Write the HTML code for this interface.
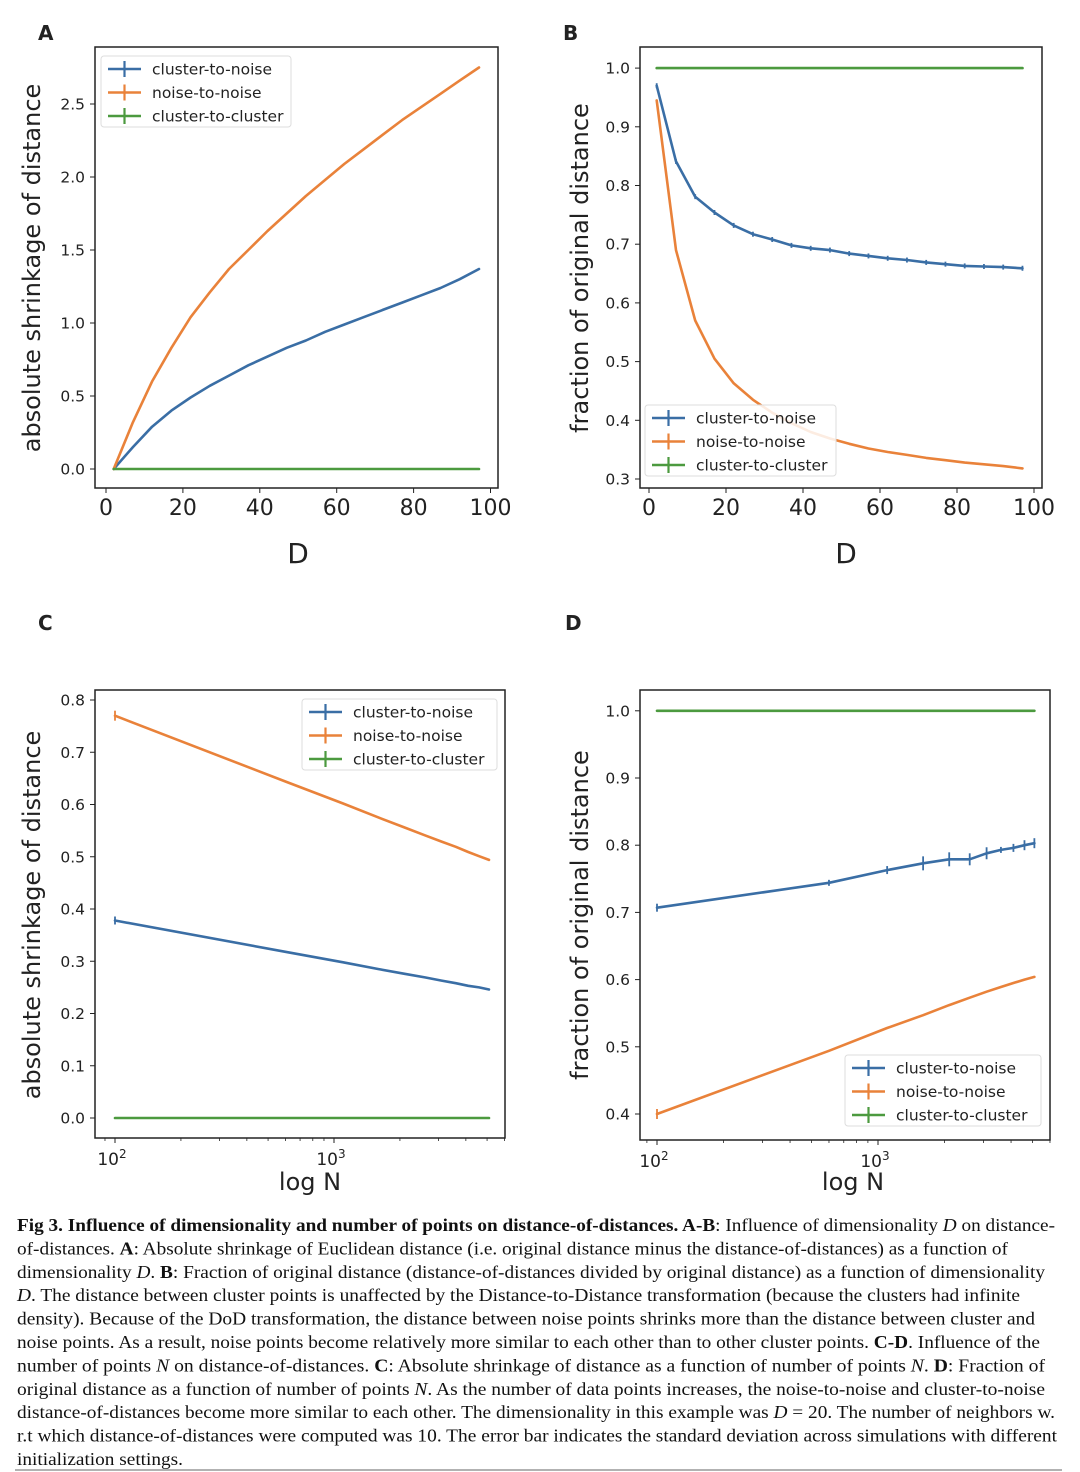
<!DOCTYPE html>
<html><head><meta charset="utf-8">
<style>
html,body{margin:0;padding:0;background:#fff;}
svg{display:block;}
.tk{font-family:"DejaVu Sans","Liberation Sans",sans-serif;fill:#222;}
.cap{font-family:"Liberation Serif",serif;font-size:18px;fill:#111;}
</style></head>
<body>
<svg id="fig" width="1080" height="1472" viewBox="0 0 1080 1472" xmlns="http://www.w3.org/2000/svg"></svg>
<script>
// ---- data ----
const dimD = [2,7,12,17,22,27,32,37,42,47,52,57,62,67,72,77,82,87,92,97];
const aNoise = [0,0.32,0.60,0.83,1.04,1.21,1.37,1.50,1.63,1.75,1.87,1.98,2.09,2.19,2.29,2.39,2.48,2.57,2.66,2.75];
const aClusterNoise = [0,0.15,0.29,0.40,0.49,0.57,0.64,0.71,0.77,0.83,0.88,0.94,0.99,1.04,1.09,1.14,1.19,1.24,1.30,1.37];
const aClusterCluster = [0,0,0,0,0,0,0,0,0,0,0,0,0,0,0,0,0,0,0,0];
const bClusterNoise = [0.970,0.841,0.781,0.754,0.732,0.717,0.708,0.698,0.693,0.690,0.684,0.680,0.676,0.673,0.669,0.666,0.663,0.662,0.661,0.659];
const bNoise = [0.945,0.69,0.57,0.505,0.463,0.435,0.413,0.395,0.380,0.369,0.360,0.352,0.346,0.341,0.336,0.332,0.328,0.325,0.322,0.318];
const bClusterCluster = [1,1,1,1,1,1,1,1,1,1,1,1,1,1,1,1,1,1,1,1];
const numN = [100,600,1100,1600,2100,2600,3100,3600,4100,4600,5100];
const cNoise = [0.770,0.644,0.602,0.575,0.556,0.541,0.529,0.519,0.509,0.501,0.494];
const cClusterNoise = [0.378,0.318,0.298,0.285,0.276,0.269,0.263,0.258,0.253,0.250,0.246];
const cClusterCluster = [0,0,0,0,0,0,0,0,0,0,0];
const dClusterNoise = [0.707,0.744,0.763,0.773,0.779,0.779,0.788,0.793,0.796,0.800,0.803];
const dNoise = [0.400,0.494,0.528,0.547,0.562,0.573,0.582,0.589,0.595,0.600,0.604];
const dClusterCluster = [1,1,1,1,1,1,1,1,1,1,1];
const linTicksX = [0,20,40,60,80,100];
const aTicksY = [0.0,0.5,1.0,1.5,2.0,2.5];
const bTicksY = [0.3,0.4,0.5,0.6,0.7,0.8,0.9,1.0];
const cTicksY = [0.0,0.1,0.2,0.3,0.4,0.5,0.6,0.7,0.8];
const dTicksY = [0.4,0.5,0.6,0.7,0.8,0.9,1.0];
const logTicksX = [100,1000];
const legendLabels = ["cluster-to-noise","noise-to-noise","cluster-to-cluster"];
const BLUE="#3a6ea5", ORANGE="#e9823a", GREEN="#4c9a3f";

const NS="http://www.w3.org/2000/svg";
const svg=document.getElementById('fig');
function mk(tag,attrs,parent){const e=document.createElementNS(NS,tag);for(const k in attrs)e.setAttribute(k,attrs[k]);(parent||svg).appendChild(e);return e;}

function panel(o){
  const g=mk('g',{});
  
  
  const X=v=>o.log? o.x0+(Math.log10(v)-2)*o.decade : o.x0+(v-o.xmin)*o.xs;
  const Y=v=>o.y0-(v-o.ymin)*o.ys;
  const L=mk('text',{x:o.lx,y:o.ly,'font-size':20,'font-weight':'bold',class:'tk'},g);L.textContent=o.letter;
  
  
  const box=mk('rect',{x:o.bx,y:o.by,width:o.bw,height:o.bh,fill:'none',stroke:'#222','stroke-width':1.5},g);
  
  
  const bot=o.by+o.bh;
  o.yt.forEach(v=>{
    const y=Y(v);
    mk('line',{x1:o.bx-5,x2:o.bx,y1:y,y2:y,stroke:'#222','stroke-width':1},g);
    const t=mk('text',{x:o.bx-10,y:y+5.5,'font-size':15.5,'text-anchor':'end',class:'tk'},g);
    t.textContent=v.toFixed(1);
    
    
  });
  if(o.log){
    const x9=X(90); if(x9>o.bx) mk('line',{x1:x9,x2:x9,y1:bot,y2:bot+3,stroke:'#222','stroke-width':0.8},g);
    for(let m=2;m<=9;m++){const x=X(m*100);mk('line',{x1:x,x2:x,y1:bot,y2:bot+3,stroke:'#222','stroke-width':0.8},g);}
    for(let m=2;m<=9;m++){const x=X(m*1000);if(x<o.bx+o.bw)mk('line',{x1:x,x2:x,y1:bot,y2:bot+3,stroke:'#222','stroke-width':0.8},g);}
    logTicksX.forEach(v=>{
      const x=X(v);
      mk('line',{x1:x,x2:x,y1:bot,y2:bot+5,stroke:'#222','stroke-width':1},g);
      const t=mk('text',{x:x-3,y:bot+27,'font-size':17,'text-anchor':'middle',class:'tk'},g);
      t.textContent='10';
      const s=mk('tspan',{dy:-7,'font-size':12},t);s.textContent=String(Math.round(Math.log10(v)));
      
      
    });
  } else {
    linTicksX.forEach(v=>{
      const x=X(v);
      mk('line',{x1:x,x2:x,y1:bot,y2:bot+5,stroke:'#222','stroke-width':1},g);
      const t=mk('text',{x:x,y:bot+27,'font-size':22,'text-anchor':'middle',class:'tk'},g);
      t.textContent=String(v);
      
      
    });
  }
  const xl=mk('text',{x:o.xlx,y:o.xly,'font-size':o.xlfs,'text-anchor':'middle',class:'tk'},g);xl.textContent=o.xlabel;
  
  
  const yl=mk('text',{x:0,y:0,'font-size':24,'text-anchor':'middle',class:'tk',transform:`translate(${o.ylx},${o.yly}) rotate(-90)`},g);yl.textContent=o.ylabel;
  
  
  const names=['cluster-to-noise','noise-to-noise','cluster-to-cluster'];
  const cols=[BLUE,ORANGE,GREEN];
  o.series.forEach((arr,si)=>{
    const pts=o.xs_data.map((xv,i)=>X(xv).toFixed(1)+','+Y(arr[i]).toFixed(1)).join(' ');
    const pl=mk('polyline',{points:pts,fill:'none',stroke:cols[si],'stroke-width':2.6,'stroke-linejoin':'round','stroke-linecap':'round'},g);
    
    
    if(o.err && o.err[si]){
      o.xs_data.forEach((xv,i)=>{
        const e=o.err[si][i]; if(!e)return;
        const x=X(xv),y=Y(arr[i]);
        const eb=mk('line',{x1:x,x2:x,y1:y-e,y2:y+e,stroke:cols[si],'stroke-width':1.8},g);
        
        
      });
    }
  });
  const lg=mk('g',{},g);
  
  
  mk('rect',{x:o.lgx,y:o.lgy,width:o.lgw,height:71,rx:3,fill:'#fff','fill-opacity':0.85,stroke:'#ddd','stroke-width':1},lg);
  legendLabels.forEach((lab,i)=>{
    const yy=o.lgy+13+i*23.5;
    const e=mk('g',{},lg);
    
    
    mk('line',{x1:o.lgx+7,x2:o.lgx+40,y1:yy,y2:yy,stroke:cols[i],'stroke-width':2.6},e);
    mk('line',{x1:o.lgx+23.5,x2:o.lgx+23.5,y1:yy-8,y2:yy+8,stroke:cols[i],'stroke-width':2.2},e);
    const t=mk('text',{x:o.lgx+51,y:yy+5.5,'font-size':15.5,class:'tk'},e);t.textContent=lab;
  });
}
function errs(arr,v){return arr.map(()=>v);}

panel({name:'panel-a',letter:'A',lx:38,ly:40,bx:95,by:47,bw:403,bh:441,xmin:0,xs:3.845,x0:106,ymin:0,ys:146,y0:469,yt:aTicksY,
  xlabel:'D',xlx:298,xly:563,xlfs:28,ylabel:'absolute shrinkage of distance',ylx:40,yly:268,
  xs_data:dimD,series:[aClusterNoise,aNoise,aClusterCluster],lgx:101,lgy:56,lgw:190});
panel({name:'panel-b',letter:'B',lx:563,ly:40,bx:640,by:47,bw:402,bh:441,xmin:0,xs:3.85,x0:649,ymin:0.3,ys:587,y0:479,yt:bTicksY,
  xlabel:'D',xlx:846,xly:563,xlfs:28,ylabel:'fraction of original distance',ylx:588,yly:268,
  xs_data:dimD,series:[bClusterNoise,bNoise,bClusterCluster],err:[errs(dimD,2.5),null,null],lgx:645,lgy:405,lgw:191});
panel({name:'panel-c',letter:'C',lx:38,ly:630,bx:95,by:690,bw:410,bh:448,log:true,x0:115,decade:219,ymin:0,ys:522.5,y0:1118,yt:cTicksY,
  xlabel:'log N',xlx:310,xly:1190,xlfs:24,ylabel:'absolute shrinkage of distance',ylx:40,yly:915,
  xs_data:numN,series:[cClusterNoise,cNoise,cClusterCluster],err:[[4,0,0,0,0,0,0,0,0,0,0],[5,0,0,0,0,0,0,0,0,0,0],null],lgx:302,lgy:699,lgw:195});
panel({name:'panel-d',letter:'D',lx:565,ly:630,bx:640,by:690,bw:410,bh:450,log:true,x0:657,decade:221,ymin:0.4,ys:672,y0:1114,yt:dTicksY,
  xlabel:'log N',xlx:853,xly:1190,xlfs:24,ylabel:'fraction of original distance',ylx:588,yly:915,
  xs_data:numN,series:[dClusterNoise,dNoise,dClusterCluster],err:[[4,3,4,7,7,6,6,3,4,5,5],[5,0,0,0,0,0,0,0,0,0,0],null],lgx:845,lgy:1055,lgw:196});

const capLines=[
 [[['b','Fig 3. Influence of dimensionality and number of points on distance-of-distances. A-B'],['n',': Influence of dimensionality '],['i','D'],['n',' on distance-']],1055],
 [[['n','of-distances. '],['b','A'],['n',': Absolute shrinkage of Euclidean distance (i.e. original distance minus the distance-of-distances) as a function of']],1008],
 [[['n','dimensionality '],['i','D'],['n','. '],['b','B'],['n',': Fraction of original distance (distance-of-distances divided by original distance) as a function of dimensionality']],1045],
 [[['i','D'],['n','. The distance between cluster points is unaffected by the Distance-to-Distance transformation (because the clusters had infinite']],1020],
 [[['n','density). Because of the DoD transformation, the distance between noise points shrinks more than the distance between cluster and']],1035],
 [[['n','noise points. As a result, noise points become relatively more similar to each other than to other cluster points. '],['b','C-D'],['n','. Influence of the']],1040],
 [[['n','number of points '],['i','N'],['n',' on distance-of-distances. '],['b','C'],['n',': Absolute shrinkage of distance as a function of number of points '],['i','N'],['n','. '],['b','D'],['n',': Fraction of']],1045],
 [[['n','original distance as a function of number of points '],['i','N'],['n','. As the number of data points increases, the noise-to-noise and cluster-to-noise']],1045],
 [[['n','distance-of-distances become more similar to each other. The dimensionality in this example was '],['i','D'],['n',' = 20. The number of neighbors w.']],1055],
 [[['n','r.t which distance-of-distances were computed was 10. The error bar indicates the standard deviation across simulations with different']],1057],
 [[['n','initialization settings.']],183]
];
const cg=mk('g',{});


capLines.forEach((ln,i)=>{
  const t=mk('text',{x:17,y:1231+i*23.4,class:'cap',textLength:ln[1]-17,lengthAdjust:'spacingAndGlyphs'},cg);
  ln[0].forEach(p=>{const s=mk('tspan',{},t);if(p[0]==='b')s.setAttribute('font-weight','bold');if(p[0]==='i')s.setAttribute('font-style','italic');s.textContent=p[1];});
});
mk('line',{x1:15,x2:1062,y1:1470,y2:1470,stroke:'#999','stroke-width':1.5},cg);
</script>
</body></html>
